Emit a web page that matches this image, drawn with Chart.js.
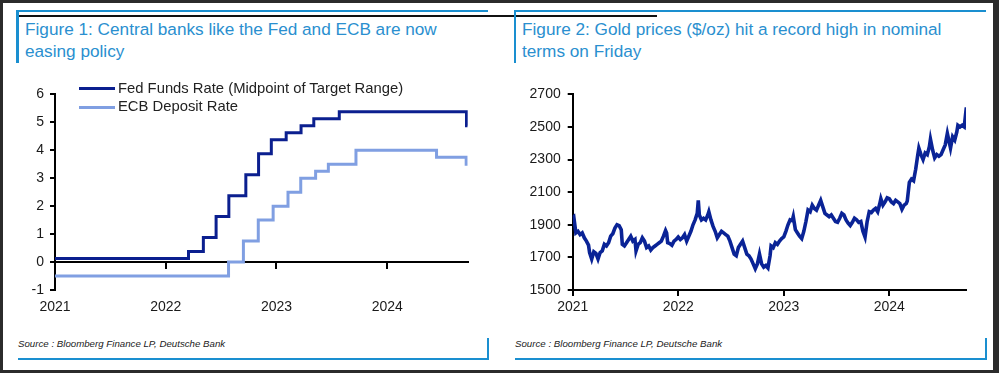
<!DOCTYPE html>
<html>
<head>
<meta charset="utf-8">
<script src="https://cdn.jsdelivr.net/npm/chart.js@4.4.1/dist/chart.umd.min.js"></script>
<style>
  body { margin: 0; width: 999px; height: 373px; position: relative; background: #fff; font-family: "Liberation Sans", Arial, sans-serif; overflow: hidden; }
  .abs { position: absolute; }
  #frame { left: 0; top: 0; width: 999px; height: 373px; box-sizing: border-box; border-style: solid; border-color: #2b2b2b; border-width: 3px 6px 3px 3px; }
  .blue { background: #1a8fd0; }
  .title { font-size: 17.2px; line-height: 21.6px; color: #2a8fcf; white-space: nowrap; }
  .source { font-size: 9.7px; font-style: italic; color: #222; white-space: nowrap; }
  .legtext { font-size: 14.8px; line-height: 16px; color: #222; white-space: nowrap; }
  canvas { position: absolute; }
</style>
</head>
<body>
<div class="abs" id="frame"></div>

<!-- left panel -->
<div class="abs blue" style="left:16px; top:10px; width:3px; height:53px;"></div>
<div class="abs blue" style="left:16px; top:10px; width:472px; height:2px;"></div>
<div class="abs" style="left:19px; top:15px; width:638px; height:2px; background:#111;"></div>
<div class="abs title" style="left:25px; top:19px;">Figure 1: Central banks like the Fed and ECB are now<br>easing policy</div>
<canvas id="rates" width="500" height="250" style="left:0; top:70px;"></canvas>
<div class="abs" style="left:79px; top:87.3px; width:36px; height:3px; background:#0b1f8f;"></div>
<div class="abs legtext" style="left:118px; top:79.8px;">Fed Funds Rate (Midpoint of Target Range)</div>
<div class="abs" style="left:79px; top:105.7px; width:36px; height:3px; background:#809fe2;"></div>
<div class="abs legtext" style="left:118px; top:98.1px;">ECB Deposit Rate</div>
<div class="abs source" style="left:18px; top:337.5px;">Source : Bloomberg Finance LP, Deutsche Bank</div>
<div class="abs blue" style="left:18px; top:358px; width:471px; height:2px;"></div>
<div class="abs blue" style="left:487px; top:338px; width:2px; height:22px;"></div>

<!-- right panel -->
<div class="abs blue" style="left:514px; top:10px; width:2px; height:53px;"></div>
<div class="abs blue" style="left:514px; top:10px; width:472px; height:2px;"></div>
<div class="abs title" style="left:522px; top:19px;">Figure 2: Gold prices ($/oz) hit a record high in nominal<br>terms on Friday</div>
<canvas id="gold" width="499" height="250" style="left:500px; top:70px;"></canvas>
<div class="abs source" style="left:515px; top:337.5px;">Source : Bloomberg Finance LP, Deutsche Bank</div>
<div class="abs blue" style="left:515px; top:358px; width:472px; height:2px;"></div>
<div class="abs blue" style="left:985px; top:338px; width:2px; height:22px;"></div>

<script type="text/javascript">
	// policy rate changes (effective date, level after the change)
	var fedDates = ['2021-01-01', '2022-03-17', '2022-05-05', '2022-06-16', '2022-07-28', '2022-09-22',
		'2022-11-03', '2022-12-15', '2023-02-02', '2023-03-23', '2023-05-04', '2023-07-27', '2024-09-19', '2024-09-23'];
	var fedRates = [0.125, 0.375, 0.875, 1.625, 2.375, 3.125, 3.875, 4.375, 4.625, 4.875, 5.125, 5.375, 4.875, 4.875];

	var ecbDates = ['2021-01-01', '2022-07-27', '2022-09-14', '2022-11-02', '2022-12-21', '2023-02-08',
		'2023-03-22', '2023-05-10', '2023-06-21', '2023-09-20', '2024-06-12', '2024-09-18', '2024-09-23'];
	var ecbRates = [-0.5, 0, 0.75, 1.5, 2.0, 2.5, 3.0, 3.25, 3.5, 4.0, 3.75, 3.5, 3.5];

	// gold, $/oz (x in fractional years)
	var goldYears = [
		2021.00, 2021.01, 2021.02, 2021.03, 2021.05, 2021.07, 2021.09, 2021.11, 2021.13, 2021.15, 2021.16, 2021.18,
		2021.20, 2021.22, 2021.24, 2021.26, 2021.28, 2021.30, 2021.32, 2021.34, 2021.36, 2021.38, 2021.40, 2021.42,
		2021.44, 2021.46, 2021.47, 2021.49, 2021.51, 2021.53, 2021.55, 2021.57, 2021.59, 2021.60, 2021.62, 2021.64,
		2021.66, 2021.68, 2021.70, 2021.72, 2021.74, 2021.76, 2021.78, 2021.80, 2021.82, 2021.84, 2021.86, 2021.88,
		2021.89, 2021.90, 2021.92, 2021.94, 2021.96, 2021.98,
		2022.00, 2022.02, 2022.04, 2022.06, 2022.08, 2022.10, 2022.12, 2022.14, 2022.16, 2022.18, 2022.19, 2022.20,
		2022.22, 2022.24, 2022.26, 2022.28, 2022.29, 2022.31, 2022.33, 2022.35, 2022.37, 2022.39, 2022.41, 2022.43,
		2022.45, 2022.47, 2022.49, 2022.51, 2022.53, 2022.55, 2022.57, 2022.59, 2022.61, 2022.63, 2022.65, 2022.67,
		2022.69, 2022.71, 2022.73, 2022.75, 2022.77, 2022.79, 2022.81, 2022.83, 2022.85, 2022.87, 2022.88, 2022.90,
		2022.92, 2022.94, 2022.96, 2022.98,
		2023.00, 2023.02, 2023.04, 2023.06, 2023.08, 2023.09, 2023.11, 2023.13, 2023.15, 2023.17, 2023.19, 2023.21,
		2023.23, 2023.25, 2023.27, 2023.29, 2023.31, 2023.33, 2023.35, 2023.37, 2023.39, 2023.41, 2023.43, 2023.45,
		2023.47, 2023.49, 2023.51, 2023.53, 2023.55, 2023.57, 2023.59, 2023.61, 2023.63, 2023.65, 2023.67, 2023.69,
		2023.71, 2023.73, 2023.75, 2023.77, 2023.79, 2023.81, 2023.83, 2023.85, 2023.87, 2023.89, 2023.91, 2023.92,
		2023.94, 2023.96, 2023.98,
		2024.00, 2024.02, 2024.04, 2024.06, 2024.08, 2024.10, 2024.12, 2024.14, 2024.16, 2024.17, 2024.19, 2024.21,
		2024.23, 2024.25, 2024.27, 2024.28, 2024.30, 2024.32, 2024.34, 2024.36, 2024.38, 2024.39, 2024.41, 2024.43,
		2024.45, 2024.47, 2024.49, 2024.51, 2024.53, 2024.55, 2024.57, 2024.58, 2024.60, 2024.62, 2024.64, 2024.65,
		2024.67, 2024.69, 2024.71, 2024.72, 2024.73
	];
	var goldPrices = [
		1945, 1950, 1900, 1850, 1860, 1840, 1850, 1820, 1800, 1775, 1730, 1690,
		1735, 1725, 1690, 1730, 1740, 1780, 1770, 1790, 1830, 1845, 1880, 1900,
		1895, 1870, 1780, 1770, 1790, 1810, 1830, 1800, 1810, 1740, 1780, 1790,
		1820, 1800, 1760, 1770, 1745, 1760, 1770, 1780, 1790, 1800, 1830, 1865,
		1850, 1790, 1785, 1775, 1800, 1810,
		1825, 1810, 1820, 1840, 1800, 1830, 1860, 1900, 1930, 1970, 2050, 1960,
		1930, 1940, 1930, 1960, 1980, 1930, 1890, 1860, 1820, 1840, 1860, 1850,
		1840, 1830, 1800, 1760, 1720, 1710, 1760, 1780, 1800, 1760, 1720, 1710,
		1690, 1660, 1630, 1660, 1720, 1660, 1640, 1650, 1635, 1710, 1770, 1760,
		1790, 1780, 1800, 1815,
		1825, 1860, 1900, 1930, 1925, 1950, 1870, 1850, 1830, 1815, 1860, 1920,
		1990, 1980, 2020, 2000, 1990, 2020, 2050, 2010, 1970, 1960, 1950, 1960,
		1940, 1920, 1915, 1940, 1970, 1960, 1930, 1910, 1895, 1915, 1940, 1930,
		1915, 1920, 1860, 1825, 1920, 1980, 1975, 1990, 2000, 1980, 2030, 2060,
		2020, 2040, 2065,
		2060, 2040, 2030, 2050, 2040, 2030, 1995, 2020, 2030, 2045, 2160, 2180,
		2170, 2240, 2330, 2370, 2330, 2300, 2340, 2330, 2380, 2425, 2360, 2310,
		2330, 2320, 2330, 2360, 2390, 2460, 2400, 2370, 2440, 2420, 2470, 2510,
		2500, 2510, 2500, 2560, 2620
	];

	var yearTicks = [2021, 2022, 2023, 2024];
	var lastDate = '2024-09-23';

	var navy = '#0b1f8f';
	var goldBlue = '#0a2396';
	var lightBlue = '#809fe2';
	var tickFont = { family: '"Liberation Sans", Arial, sans-serif', size: 14 };
	var tickColor = '#1a1a1a';

	function toYear(d) {
		var p = d.split('-').map(Number);
		var start = Date.UTC(p[0], 0, 1), end = Date.UTC(p[0] + 1, 0, 1);
		return p[0] + (Date.UTC(p[0], p[1] - 1, p[2]) - start) / (end - start);
	}

	function keepYears(scale) {
		scale.ticks = yearTicks.map(function(v) { return { value: v }; });
	}

	var xMax = toYear(lastDate);

	new Chart(document.getElementById('rates'), {
		type: 'line',
		data: {
			datasets: [{
				label: 'Fed Funds Rate (Midpoint of Target Range)',
				data: fedDates.map(function(d, i) { return { x: toYear(d), y: fedRates[i] }; }),
				borderColor: navy,
				borderWidth: 3,
				stepped: 'before',
				pointRadius: 0
			}, {
				label: 'ECB Deposit Rate',
				data: ecbDates.map(function(d, i) { return { x: toYear(d), y: ecbRates[i] }; }),
				borderColor: lightBlue,
				borderWidth: 3,
				stepped: 'before',
				pointRadius: 0
			}]
		},
		options: {
			responsive: false,
			animation: false,
			layout: { padding: { left: 0, right: 32.3, top: 24.3, bottom: 0 } },
			plugins: { legend: { display: false }, tooltip: { enabled: false } },
			scales: {
				x: {
					type: 'linear', min: 2021, max: xMax, position: 'bottom',
					afterBuildTicks: keepYears,
					afterFit: function(s) { s.height = 30; },
					border: { display: false },
					grid: { display: false, drawTicks: false },
					ticks: { padding: 9, font: tickFont, color: tickColor, maxRotation: 0, autoSkip: false,
						callback: function(v) { return String(v); } }
				},
				zero: {
					type: 'linear', axis: 'x', min: 2021, max: xMax, position: { y: 0 },
					afterBuildTicks: keepYears,
					border: { color: '#000', width: 2 },
					grid: { drawOnChartArea: false, drawTicks: true, tickLength: 6, color: '#000', lineWidth: 2 },
					ticks: { display: false }
				},
				y: {
					min: -1, max: 6,
					afterFit: function(s) { s.width = 55; },
					border: { color: '#000', width: 2 },
					grid: { drawOnChartArea: false, tickLength: 5, color: '#000', lineWidth: 2 },
					ticks: { stepSize: 1, padding: 6, font: tickFont, color: tickColor }
				}
			}
		}
	});

	new Chart(document.getElementById('gold'), {
		type: 'line',
		data: {
			datasets: [{
				label: 'Gold',
				data: goldYears.map(function(t, i) { return { x: t, y: goldPrices[i] }; }),
				borderColor: goldBlue,
				borderWidth: 3.6,
				pointRadius: 0,
				tension: 0
			}]
		},
		options: {
			responsive: false,
			animation: false,
			layout: { padding: { left: 0, right: 33, top: 24.3, bottom: 0 } },
			plugins: { legend: { display: false }, tooltip: { enabled: false } },
			scales: {
				x: {
					type: 'linear', min: 2021, max: xMax, position: 'bottom',
					afterBuildTicks: keepYears,
					afterFit: function(s) { s.height = 30; },
					border: { color: '#000', width: 2 },
					grid: { drawOnChartArea: false, tickLength: 6, color: '#000', lineWidth: 2 },
					ticks: { padding: 3, font: tickFont, color: tickColor, maxRotation: 0, autoSkip: false,
						callback: function(v) { return String(v); } }
				},
				y: {
					min: 1500, max: 2700,
					afterFit: function(s) { s.width = 72.7; },
					border: { color: '#000', width: 2 },
					grid: { drawOnChartArea: false, tickLength: 5, color: '#000', lineWidth: 2 },
					ticks: { stepSize: 200, padding: 7, font: tickFont, color: tickColor,
						callback: function(v) { return String(v); } }
				}
			}
		}
	});
</script>
</body>
</html>
